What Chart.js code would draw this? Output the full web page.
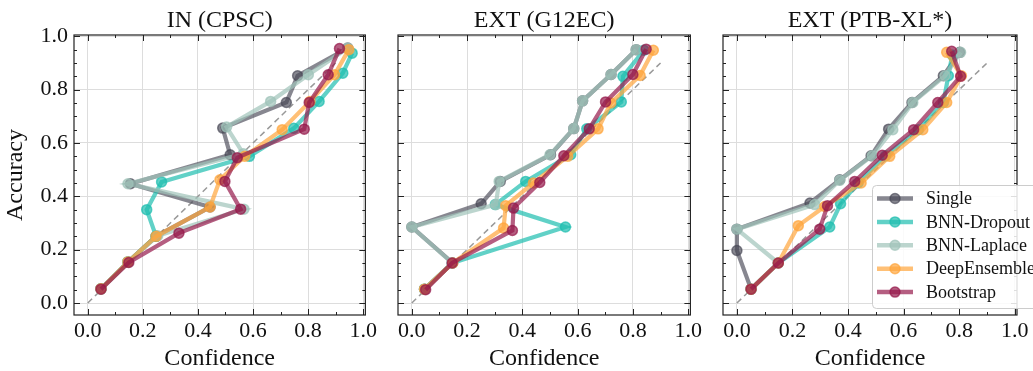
<!DOCTYPE html>
<html>
<head>
<meta charset="utf-8">
<script src="https://cdn.jsdelivr.net/npm/chart.js@4.4.0/dist/chart.umd.min.js"></script>
<style>
html,body{margin:0;padding:0;background:#fff;}
#wrap{position:relative;width:1033px;height:371px;background:#fff;overflow:hidden;}
canvas{position:absolute;top:0;}
</style>
</head>
<body>
<div id="wrap">
<canvas id="c0" width="380" height="371" style="left:0px"></canvas>
<canvas id="c1" width="320" height="371" style="left:385px"></canvas>
<canvas id="c2" width="323" height="371" style="left:710px"></canvas>
</div>
<script>
// ---------- data ----------
const methods = ['Single', 'BNN-Dropout', 'BNN-Laplace', 'DeepEnsemble', 'Bootstrap'];
const panelTitles = ['IN (CPSC)', 'EXT (G12EC)', 'EXT (PTB-XL*)'];

const xTickValues = [0, 0.2, 0.4, 0.6, 0.8, 1.0];
const xTickLabels = ['0.0', '0.2', '0.4', '0.6', '0.8', '1.0'];
const yTickValues = [0, 0.2, 0.4, 0.6, 0.8, 1.0];
const yTickLabels = ['0.0', '0.2', '0.4', '0.6', '0.8', '1.0'];
const xMinorTicks = [0.1, 0.3, 0.5, 0.7, 0.9];
const yMinorTicks = [0.05, 0.1, 0.15, 0.25, 0.3, 0.35, 0.45, 0.5, 0.55, 0.65, 0.7, 0.75, 0.85, 0.9, 0.95];

const diagonalX = [0, 0.9];
const diagonalY = [0, 0.9];

// IN (CPSC)
const inSingleConf  = [0.048, 0.146, 0.248, 0.444, 0.155, 0.517, 0.490, 0.721, 0.762, 0.944];
const inSingleAcc   = [0.053, 0.154, 0.250, 0.360, 0.447, 0.556, 0.656, 0.752, 0.852, 0.956];
const inDropoutConf = [0.048, 0.146, 0.248, 0.214, 0.268, 0.587, 0.748, 0.840, 0.926, 0.960];
const inDropoutAcc  = [0.053, 0.154, 0.250, 0.350, 0.454, 0.550, 0.655, 0.756, 0.862, 0.937];
const inLaplaceConf = [0.048, 0.146, 0.254, 0.567, 0.146, 0.565, 0.504, 0.664, 0.801, 0.944];
const inLaplaceAcc  = [0.053, 0.154, 0.252, 0.352, 0.447, 0.560, 0.660, 0.756, 0.856, 0.956];
const inDeepConf    = [0.048, 0.146, 0.248, 0.444, 0.480, 0.570, 0.706, 0.807, 0.896, 0.948];
const inDeepAcc     = [0.053, 0.154, 0.250, 0.360, 0.462, 0.550, 0.650, 0.756, 0.856, 0.950];
const inBootConf    = [0.048, 0.149, 0.331, 0.555, 0.498, 0.543, 0.786, 0.804, 0.873, 0.914];
const inBootAcc     = [0.052, 0.152, 0.262, 0.352, 0.456, 0.545, 0.652, 0.752, 0.856, 0.954];

// EXT (G12EC)
const gSingleConf  = [0.046, 0.148, 0.000, 0.251, 0.320, 0.502, 0.586, 0.618, 0.721, 0.812];
const gSingleAcc   = [0.052, 0.150, 0.285, 0.372, 0.456, 0.556, 0.654, 0.758, 0.857, 0.950];
const gDropoutConf = [0.046, 0.146, 0.556, 0.302, 0.412, 0.575, 0.633, 0.758, 0.764, 0.840];
const gDropoutAcc  = [0.052, 0.150, 0.285, 0.369, 0.456, 0.556, 0.653, 0.754, 0.850, 0.948];
const gLaplaceConf = [0.046, 0.146, 0.000, 0.304, 0.316, 0.500, 0.586, 0.618, 0.721, 0.812];
const gLaplaceAcc  = [0.052, 0.150, 0.285, 0.369, 0.456, 0.556, 0.654, 0.758, 0.857, 0.950];
const gDeepConf    = [0.046, 0.148, 0.332, 0.340, 0.440, 0.564, 0.674, 0.720, 0.826, 0.874];
const gDeepAcc     = [0.052, 0.150, 0.281, 0.365, 0.450, 0.550, 0.653, 0.750, 0.853, 0.948];
const gBootConf    = [0.050, 0.146, 0.364, 0.368, 0.463, 0.550, 0.642, 0.701, 0.800, 0.848];
const gBootAcc     = [0.050, 0.150, 0.272, 0.356, 0.452, 0.552, 0.653, 0.754, 0.857, 0.952];

// EXT (PTB-XL*)
const pSingleConf  = [0.051, 0.000, 0.000, 0.263, 0.370, 0.483, 0.546, 0.630, 0.743, 0.802];
const pSingleAcc   = [0.052, 0.197, 0.277, 0.375, 0.462, 0.552, 0.652, 0.752, 0.852, 0.940];
const pDropoutConf = [0.051, 0.149, 0.334, 0.373, 0.436, 0.535, 0.653, 0.743, 0.761, 0.775];
const pDropoutAcc  = [0.052, 0.150, 0.285, 0.372, 0.450, 0.552, 0.650, 0.752, 0.852, 0.930];
const pLaplaceConf = [0.051, 0.149, 0.000, 0.280, 0.370, 0.487, 0.561, 0.633, 0.749, 0.805];
const pLaplaceAcc  = [0.052, 0.150, 0.277, 0.369, 0.460, 0.552, 0.650, 0.752, 0.852, 0.940];
const pDeepConf    = [0.051, 0.149, 0.221, 0.316, 0.447, 0.550, 0.669, 0.755, 0.808, 0.755];
const pDeepAcc     = [0.052, 0.150, 0.290, 0.362, 0.450, 0.550, 0.650, 0.752, 0.852, 0.940];
const pBootConf    = [0.051, 0.149, 0.298, 0.326, 0.424, 0.523, 0.636, 0.723, 0.805, 0.773];
const pBootAcc     = [0.052, 0.150, 0.277, 0.365, 0.456, 0.554, 0.650, 0.752, 0.850, 0.944];

// ---------- styling ----------
const colors = [
  'rgba(70,70,85,0.65)',
  'rgba(30,190,175,0.70)',
  'rgba(160,195,185,0.70)',
  'rgba(255,165,60,0.70)',
  'rgba(150,25,75,0.70)'
];
const FONT = "'Liberation Serif', 'Times New Roman', serif";

const panels = [
  [[inSingleConf, inSingleAcc], [inDropoutConf, inDropoutAcc], [inLaplaceConf, inLaplaceAcc], [inDeepConf, inDeepAcc], [inBootConf, inBootAcc]],
  [[gSingleConf, gSingleAcc], [gDropoutConf, gDropoutAcc], [gLaplaceConf, gLaplaceAcc], [gDeepConf, gDeepAcc], [gBootConf, gBootAcc]],
  [[pSingleConf, pSingleAcc], [pDropoutConf, pDropoutAcc], [pLaplaceConf, pLaplaceAcc], [pDeepConf, pDeepAcc], [pBootConf, pBootAcc]]
];

const toPoints = (xs, ys) => xs.map((v, i) => ({x: v, y: ys[i]}));

// ---------- plugins ----------
const frameTicks = {
  id: 'frameTicks',
  afterDraw(chart) {
    const {ctx, chartArea: a, scales: {x, y}} = chart;
    ctx.save();
    ctx.strokeStyle = '#222';
    ctx.lineWidth = 1;
    const seg = (x1, y1, x2, y2) => { ctx.beginPath(); ctx.moveTo(x1, y1); ctx.lineTo(x2, y2); ctx.stroke(); };
    const vx = (v, len) => { const p = Math.round(x.getPixelForValue(v)) + 0.5; seg(p, a.bottom, p, a.bottom - len); seg(p, a.top, p, a.top + len); };
    const vy = (v, len) => { const p = Math.round(y.getPixelForValue(v)) + 0.5; seg(a.left, p, a.left + len, p); seg(a.right, p, a.right - len, p); };
    xTickValues.forEach(v => vx(v, 6));
    xMinorTicks.forEach(v => vx(v, 3));
    yTickValues.forEach(v => vy(v, 6));
    yMinorTicks.forEach(v => vy(v, 3));
    ctx.lineWidth = 1.2;
    ctx.strokeRect(a.left, a.top, a.right - a.left, a.bottom - a.top);
    ctx.restore();
  }
};

const panelTitle = {
  id: 'panelTitle',
  afterDraw(chart, args, opts) {
    const {ctx, chartArea: a} = chart;
    ctx.save();
    ctx.font = `24px ${FONT}`;
    ctx.fillStyle = '#111';
    ctx.textAlign = 'center';
    ctx.textBaseline = 'alphabetic';
    ctx.fillText(opts.text, (a.left + a.right) / 2, 27);
    ctx.restore();
  }
};

const boxLegend = {
  id: 'boxLegend',
  afterDraw(chart, args, opts) {
    if (!opts.show) return;
    const {ctx} = chart;
    ctx.save();
    const left = 162, top = 185, w = 220, h = 123;
    ctx.beginPath();
    ctx.roundRect(left + 0.5, top + 0.5, w, h, 4);
    ctx.fillStyle = 'rgba(255,255,255,0.85)';
    ctx.fill();
    ctx.strokeStyle = '#cccccc';
    ctx.lineWidth = 1;
    ctx.stroke();
    methods.forEach((m, i) => {
      const cy = top + 13.5 + i * 23.4;
      ctx.strokeStyle = colors[i];
      ctx.lineWidth = 4.5;
      ctx.beginPath(); ctx.moveTo(167, cy); ctx.lineTo(203, cy); ctx.stroke();
      ctx.fillStyle = colors[i];
      ctx.beginPath(); ctx.arc(185, cy, 5, 0, Math.PI * 2); ctx.fill();
      ctx.lineWidth = 1.5;
      ctx.stroke();
      ctx.fillStyle = '#111';
      ctx.font = `18px ${FONT}`;
      ctx.textAlign = 'left';
      ctx.textBaseline = 'middle';
      ctx.fillText(m, 216, cy + 1);
    });
    ctx.restore();
  }
};

// ---------- charts ----------
function makeChart(idx) {
  const first = idx === 0;
  const datasets = panels[idx].map((pair, i) => ({
    label: methods[i],
    data: toPoints(pair[0], pair[1]),
    showLine: true,
    borderColor: colors[i],
    backgroundColor: colors[i],
    pointBackgroundColor: colors[i],
    pointBorderColor: colors[i],
    borderWidth: 4.2,
    pointRadius: 5,
    pointBorderWidth: 1.5,
    pointHoverRadius: 5,
    order: 4 - i
  }));
  datasets.push({
    label: 'diag',
    data: toPoints(diagonalX, diagonalY),
    showLine: true,
    borderColor: '#999999',
    borderWidth: 1.5,
    borderDash: [6, 4],
    pointRadius: 0,
    order: 10
  });
  const rightPad = [11, 11, 16][idx];
  return new Chart(document.getElementById('c' + idx), {
    type: 'scatter',
    data: {datasets},
    plugins: [frameTicks, panelTitle, boxLegend],
    options: {
      responsive: false,
      animation: false,
      devicePixelRatio: 1,
      layout: {padding: {top: 35, right: rightPad, left: 0, bottom: 0}},
      plugins: {
        legend: {display: false},
        tooltip: {enabled: false},
        panelTitle: {text: panelTitles[idx]},
        boxLegend: {show: idx === 2}
      },
      scales: {
        x: {
          type: 'linear',
          min: -0.05, max: 1.008,
          afterBuildTicks: s => { s.ticks = xTickValues.map(v => ({value: v})); },
          afterFit: s => { s.height = 56; },
          grid: {color: '#dddddd', lineWidth: 1, drawTicks: false},
          border: {display: false},
          ticks: {
            padding: 3, autoSkip: false, maxRotation: 0, color: '#111',
            font: {family: FONT, size: 22},
            callback: (v, i) => xTickLabels[i]
          },
          title: {display: true, text: 'Confidence', color: '#111',
                  font: {family: FONT, size: 24, lineHeight: 1}, padding: {top: 0, bottom: 0}}
        },
        y: {
          type: 'linear',
          min: -0.045, max: 1.005,
          afterBuildTicks: s => { s.ticks = yTickValues.map(v => ({value: v})); },
          afterFit: s => { s.width = first ? 74 : 13; },
          grid: {color: '#dddddd', lineWidth: 1, drawTicks: false},
          border: {display: false},
          ticks: {
            display: first, padding: 6, color: '#111',
            font: {family: FONT, size: 22},
            callback: (v, i) => yTickLabels[i]
          },
          title: {display: first, text: 'Accuracy', color: '#111',
                  font: {family: FONT, size: 24, lineHeight: 1}, padding: {top: 4, bottom: 0}}
        }
      }
    }
  });
}
[0, 1, 2].forEach(makeChart);
</script>
</body>
</html>
